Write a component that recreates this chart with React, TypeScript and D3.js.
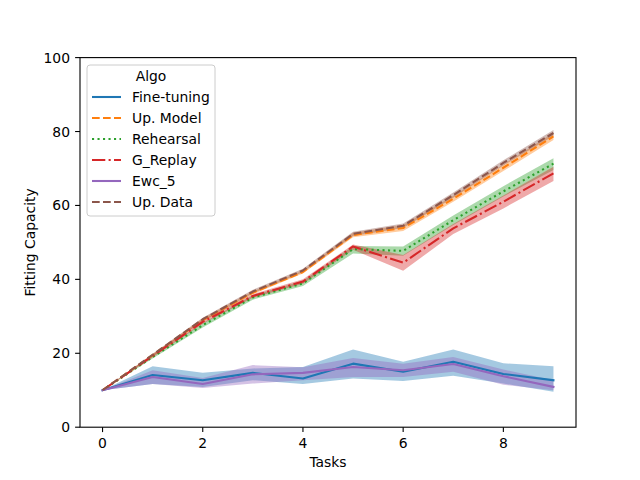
import React from "react";
import * as d3 from "d3";

const tasks = [0, 1, 2, 3, 4, 5, 6, 7, 8, 9];

const fineTuning = [10, 14.1, 12.7, 14.7, 13.2, 17.2, 15.0, 17.7, 14.4, 12.7];
const fineTuningLow = [10, 11.7, 10.9, 12.7, 11.7, 13.2, 12.5, 13.9, 11.8, 9.6];
const fineTuningHigh = [10, 16.5, 14.7, 15.9, 16.3, 21.0, 17.7, 21.0, 17.3, 16.5];

const upModel = [10, 19.5, 29.0, 36.4, 42.0, 52.0, 53.9, 61.8, 70.2, 78.7];
const upModelLow = [10, 19.2, 28.6, 36.0, 41.6, 51.4, 53.1, 61.0, 69.3, 77.7];
const upModelHigh = [10, 19.8, 29.4, 36.8, 42.4, 52.6, 54.7, 62.6, 71.1, 79.7];

const rehearsal = [10, 19.0, 27.6, 35.1, 38.9, 48.2, 47.7, 56.0, 63.8, 71.3];
const rehearsalLow = [10, 18.6, 27.0, 34.5, 38.2, 47.0, 46.4, 54.7, 62.4, 69.6];
const rehearsalHigh = [10, 19.4, 28.2, 35.7, 39.6, 49.0, 48.9, 57.3, 65.2, 72.8];

const gReplay = [10, 19.3, 28.5, 35.5, 39.4, 48.9, 44.5, 53.8, 61.0, 68.7];
const gReplayLow = [10, 18.9, 28.0, 35.0, 38.8, 48.0, 42.3, 52.3, 59.2, 66.6];
const gReplayHigh = [10, 19.7, 29.0, 36.0, 40.0, 49.4, 46.6, 55.0, 62.7, 70.5];

const ewc5 = [10, 13.6, 11.7, 14.3, 14.7, 16.3, 15.4, 17.1, 13.8, 10.9];
const ewc5Low = [10, 11.7, 10.6, 11.8, 12.7, 13.6, 13.6, 15.0, 11.5, 10.0];
const ewc5High = [10, 15.4, 13.3, 16.8, 16.2, 18.7, 17.2, 19.0, 15.6, 12.7];

const upData = [10, 19.6, 29.2, 36.7, 42.4, 52.3, 54.5, 62.8, 71.5, 79.6];
const upDataLow = [10, 19.3, 28.8, 36.2, 41.9, 51.7, 53.9, 62.1, 70.8, 78.8];
const upDataHigh = [10, 19.9, 29.6, 37.2, 42.9, 52.9, 55.1, 63.5, 72.2, 80.4];

const xTicks = [0, 2, 4, 6, 8];
const yTicks = [0, 20, 40, 60, 80, 100];

const seriesNames = ["Fine-tuning", "Up. Model", "Rehearsal", "G_Replay", "Ewc_5", "Up. Data"];
const seriesColors = ["#1f77b4", "#ff7f0e", "#2ca02c", "#d62728", "#9467bd", "#8c564b"];
const seriesDash = ["", "7.7,3.3", "2.1,3.4", "13.3,3.3,2.1,3.3", "", "7.7,3.3"];

const seriesMeans = [fineTuning, upModel, rehearsal, gReplay, ewc5, upData];
const seriesLows = [fineTuningLow, upModelLow, rehearsalLow, gReplayLow, ewc5Low, upDataLow];
const seriesHighs = [fineTuningHigh, upModelHigh, rehearsalHigh, gReplayHigh, ewc5High, upDataHigh];

const FONT = "DejaVu Sans, sans-serif";
const FS = 13.9;

export default function App() {
  const W = 640, H = 480;
  const left = 80, right = 576, top = 57.6, bottom = 427.2;
  const x = d3.scaleLinear().domain([-0.45, 9.45]).range([left, right]);
  const y = d3.scaleLinear().domain([0, 100]).range([bottom, top]);

  const line = (vals: number[]) =>
    d3.line<number>().x((_, i) => x(tasks[i])).y((d) => y(d))(vals) || "";
  const area = (lo: number[], hi: number[]) =>
    d3
      .area<number>()
      .x((_, i) => x(tasks[i]))
      .y0((_, i) => y(lo[i]))
      .y1((_, i) => y(hi[i]))(lo) || "";

  const legX = 87, legY = 65, legW = 128, legH = 151;

  return (
    <svg width={W} height={H} style={{ display: "block", position: "absolute", left: 0, top: 0 }} fontFamily={FONT}>
      <rect x={0} y={0} width={W} height={H} fill="white" />
      <defs>
        <clipPath id="plotclip">
          <rect x={left} y={top} width={right - left} height={bottom - top} />
        </clipPath>
      </defs>
      <g clipPath="url(#plotclip)">
        {seriesNames.map((n, i) => (
          <path key={"band" + n} d={area(seriesLows[i], seriesHighs[i])} fill={seriesColors[i]} fillOpacity={0.4} stroke="none" />
        ))}
        {seriesNames.map((n, i) => (
          <path
            key={"line" + n}
            d={line(seriesMeans[i])}
            fill="none"
            stroke={seriesColors[i]}
            strokeWidth={2.08}
            strokeDasharray={seriesDash[i] || undefined}
            strokeLinecap={seriesDash[i] ? "butt" : "square"}
            strokeLinejoin="round"
          />
        ))}
      </g>
      <rect x={left} y={top} width={right - left} height={bottom - top} fill="none" stroke="black" strokeWidth={1.1} />
      {xTicks.map((t) => (
        <g key={"xt" + t}>
          <line x1={x(t)} x2={x(t)} y1={bottom} y2={bottom + 4.9} stroke="black" strokeWidth={1.1} />
          <text x={x(t)} y={bottom + 21} fontSize={FS} textAnchor="middle">{t}</text>
        </g>
      ))}
      {yTicks.map((t) => (
        <g key={"yt" + t}>
          <line x1={left - 4.9} x2={left} y1={y(t)} y2={y(t)} stroke="black" strokeWidth={1.1} />
          <text x={left - 10} y={y(t) + 5} fontSize={FS} textAnchor="end">{t}</text>
        </g>
      ))}
      <text x={(left + right) / 2} y={467} fontSize={FS} textAnchor="middle">Tasks</text>
      <text transform={`translate(35, ${(top + bottom) / 2}) rotate(-90)`} fontSize={FS} textAnchor="middle">Fitting Capacity</text>

      <rect x={legX} y={legY} width={legW} height={legH} rx={3} fill="white" fillOpacity={0.8} stroke="#cccccc" strokeWidth={1} />
      <text x={legX + legW / 2} y={81} fontSize={FS} textAnchor="middle">Algo</text>
      {seriesNames.map((n, i) => {
        const cy = 97 + i * 21;
        return (
          <g key={"leg" + n}>
            <line
              x1={92}
              x2={121}
              y1={cy}
              y2={cy}
              stroke={seriesColors[i]}
              strokeWidth={2.08}
              strokeDasharray={seriesDash[i] || undefined}
            />
            <text x={132} y={cy + 5} fontSize={FS}>{n}</text>
          </g>
        );
      })}
    </svg>
  );
}
